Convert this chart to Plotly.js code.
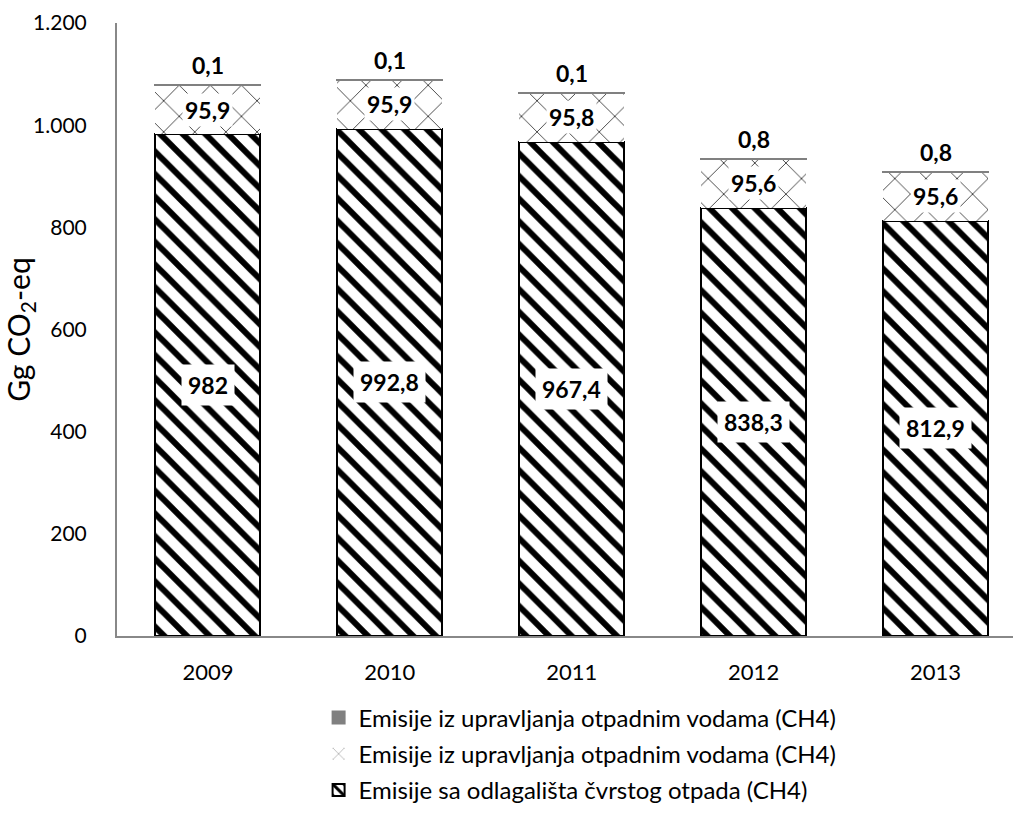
<!DOCTYPE html>
<html>
<head>
<meta charset="utf-8">
<script src="https://cdn.plot.ly/plotly-3.0.1.min.js"></script>
<style>
html,body{margin:0;padding:0;background:#fff;}
#chart{width:1014px;height:814px;}
</style>
</head>
<body>
<div id="chart"></div>
<script>
const years = ['2009', '2010', '2011', '2012', '2013'];
const solidWaste = [982, 992.8, 967.4, 838.3, 812.9];
const wasteWater = [95.9, 95.9, 95.8, 95.6, 95.6];
const wasteWaterOther = [0.1, 0.1, 0.1, 0.8, 0.8];
const solidLabels = ['982', '992,8', '967,4', '838,3', '812,9'];
const waterLabels = ['95,9', '95,9', '95,8', '95,6', '95,6'];
const otherLabels = ['0,1', '0,1', '0,1', '0,8', '0,8'];
const seriesNames = [
  'Emisije sa odlagališta čvrstog otpada (CH4)',
  'Emisije iz upravljanja otpadnim vodama (CH4)',
  'Emisije iz upravljanja otpadnim vodama (CH4)'
];

const FONT = 'Lato, "Open Sans", sans-serif';

const traces = [
  {
    type: 'bar', x: years, y: solidWaste, name: seriesNames[0], legendgroup: 'g1', legendrank: 3,
    marker: {
      color: '#ffffff',
      line: {color: '#000000', width: 2},
      pattern: {shape: '\\', fgcolor: '#000000', bgcolor: '#ffffff', fgopacity: 1, size: 16, solidity: 0.38, fillmode: 'replace'}
    },
    hoverinfo: 'skip'
  },
  {
    type: 'bar', x: years, y: wasteWater, name: seriesNames[1], legendgroup: 'g2', legendrank: 2,
    marker: {
      color: '#ffffff',
      line: {color: '#ffffff', width: 0},
      pattern: {shape: 'x', fgcolor: '#3a3a3a', bgcolor: '#ffffff', fgopacity: 1, size: 22, solidity: 0.08, fillmode: 'replace'}
    },
    hoverinfo: 'skip'
  },
  {
    type: 'bar', x: years, y: wasteWaterOther, name: seriesNames[2], legendgroup: 'g3', legendrank: 1,
    marker: {color: '#808080', line: {color: '#808080', width: 2}},
    hoverinfo: 'skip'
  }
];

const annotations = [];
years.forEach((yr, i) => {
  annotations.push({
    x: i, y: solidWaste[i] / 2, xref: 'x', yref: 'y',
    text: '<b>' + solidLabels[i] + '</b>', showarrow: false,
    font: {family: FONT, size: 23, color: '#000'},
    bgcolor: '#ffffff', borderpad: 6
  });
  annotations.push({
    x: i, y: solidWaste[i] + wasteWater[i] / 2, xref: 'x', yref: 'y',
    text: '<b>' + waterLabels[i] + '</b>', showarrow: false,
    font: {family: FONT, size: 23, color: '#000'},
    bgcolor: '#ffffff', borderpad: 2
  });
  annotations.push({
    x: i, y: solidWaste[i] + wasteWater[i] + wasteWaterOther[i], xref: 'x', yref: 'y',
    text: '<b>' + otherLabels[i] + '</b>', showarrow: false,
    font: {family: FONT, size: 23, color: '#000'},
    yanchor: 'middle', yshift: 20
  });
});

const layout = {
  width: 1014, height: 814,
  margin: {l: 117, r: 1, t: 23, b: 178},
  paper_bgcolor: '#ffffff', plot_bgcolor: '#ffffff',
  barmode: 'stack', bargap: 0.423,
  separators: ',.',
  font: {family: FONT, size: 20, color: '#000'},
  showlegend: true,
  legend: {
    x: 0.225, xanchor: 'left', y: -0.097, yanchor: 'top',
    orientation: 'v', traceorder: 'grouped',
    font: {family: FONT, size: 24, color: '#000'},
    itemwidth: 30, tracegroupgap: 2
  },
  xaxis: {
    type: 'category', range: [-0.5, 4.426],
    showline: true, linecolor: '#888888', linewidth: 2,
    ticks: '', showgrid: false, zeroline: false,
    tickfont: {family: FONT, size: 22, color: '#000'},
    ticklabelstandoff: 16
  },
  yaxis: {
    range: [0, 1200], dtick: 200, tick0: 0,
    separatethousands: true, tickformat: ',d',
    showline: true, linecolor: '#888888', linewidth: 2,
    ticks: '', showgrid: false, zeroline: false,
    tickfont: {family: FONT, size: 21, color: '#000'},
    ticklabelstandoff: 24,
    title: {text: 'Gg CO<sub>2</sub>-eq', font: {family: FONT, size: 30, color: '#000'}, standoff: 4}
  },
  annotations: annotations
};

Plotly.newPlot('chart', traces, layout, {displayModeBar: false, staticPlot: true});
</script>
</body>
</html>
